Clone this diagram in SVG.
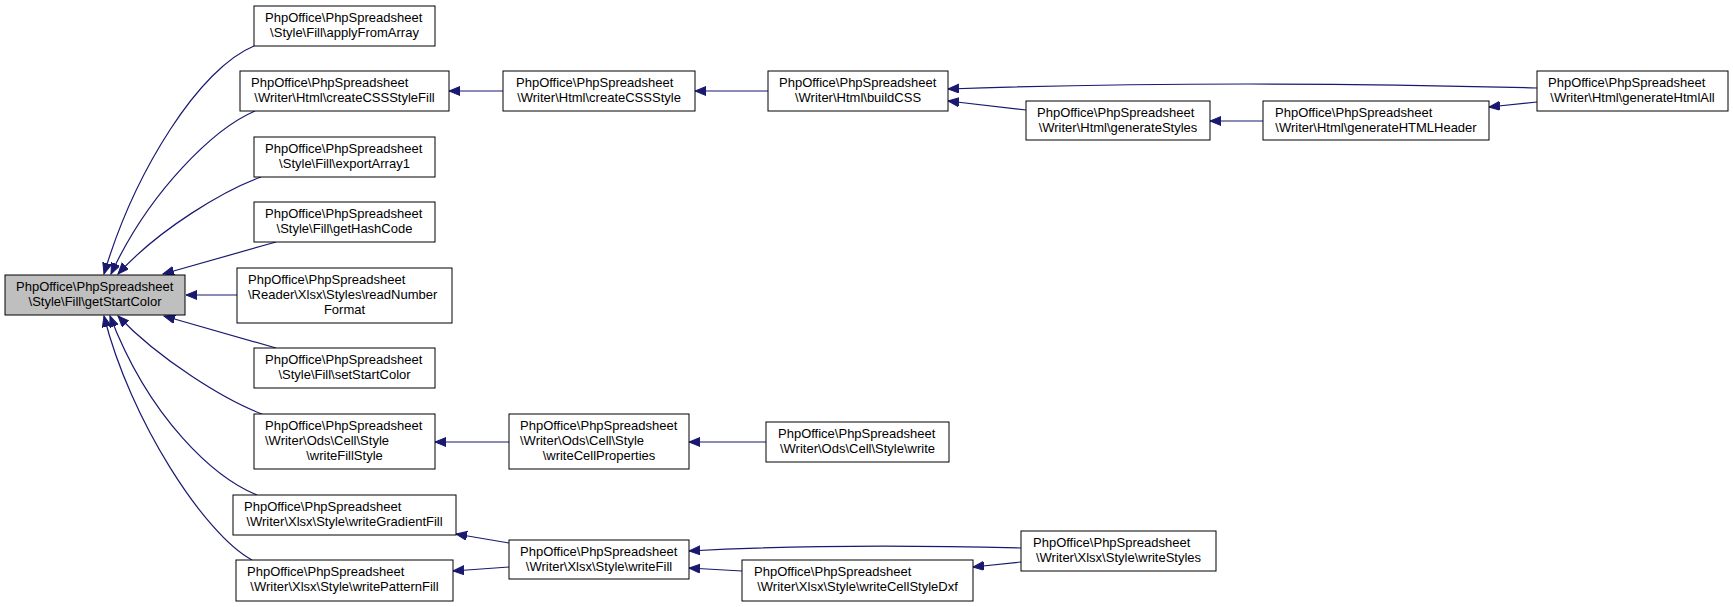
<svg xmlns="http://www.w3.org/2000/svg" width="1733" height="607" viewBox="0 0 1733 607">
<style>
.n rect{fill:#fff;stroke:#000;stroke-width:1}
.n.cur rect{fill:#bfbfbf}
text{font-family:"Liberation Sans",Arial,sans-serif;font-size:13px;fill:#000}
.m{text-anchor:middle}
#edges path{fill:none;stroke:#191970;stroke-width:1.2;marker-end:url(#ah)}
</style>
<defs>
<marker id="ah" markerUnits="userSpaceOnUse" markerWidth="13" markerHeight="11" refX="11" refY="4.5" orient="auto">
<path d="M0,0 L11,4.5 L0,9 z" fill="#191970" stroke="#191970" stroke-width="1"/>
</marker>
</defs>
<rect width="1733" height="607" fill="#fff"/>
<g id="edges">
<path d="M254,46 C200,68 135,170 104,274"/>
<path d="M255,111 C215,128 150,190 111,274"/>
<path d="M261,177 C225,190 160,228 118,274"/>
<path d="M276,242 L163,274"/>
<path d="M237,295 L186,295"/>
<path d="M276,348 L164,316"/>
<path d="M262,414 C225,400 160,360 118,316"/>
<path d="M257,495 C215,478 150,420 110,316"/>
<path d="M252,560 C205,535 130,420 104,316"/>
<path d="M503,91 L449,91"/>
<path d="M768,91 L695,91"/>
<path d="M1537,88 C1350,83 1150,82 948,89"/>
<path d="M1026,110 L948,101"/>
<path d="M1263,121 L1210,121"/>
<path d="M1537,102 L1489,107"/>
<path d="M509,442 L435,442"/>
<path d="M766,442 L689,442"/>
<path d="M509,543 L456,534"/>
<path d="M509,567 L453,571"/>
<path d="M1021,548 C900,545 780,546 689,551"/>
<path d="M1021,562 L973,567"/>
<path d="M742,571 L689,568"/>
</g>
<g id="getStartColor" class="n cur"><rect x="5" y="275" width="180" height="40"/><text x="16" y="291">PhpOffice\PhpSpreadsheet</text><text class="m" x="95" y="306">\Style\Fill\getStartColor</text></g>
<g id="applyFromArray" class="n"><rect x="254" y="6" width="181" height="40"/><text x="265" y="22">PhpOffice\PhpSpreadsheet</text><text class="m" x="344.5" y="37">\Style\Fill\applyFromArray</text></g>
<g id="createCSSStyleFill" class="n"><rect x="240" y="71" width="209" height="40"/><text x="251" y="87">PhpOffice\PhpSpreadsheet</text><text class="m" x="344.5" y="102">\Writer\Html\createCSSStyleFill</text></g>
<g id="exportArray1" class="n"><rect x="254" y="137" width="181" height="40"/><text x="265" y="153">PhpOffice\PhpSpreadsheet</text><text class="m" x="344.5" y="168">\Style\Fill\exportArray1</text></g>
<g id="getHashCode" class="n"><rect x="254" y="202" width="181" height="40"/><text x="265" y="218">PhpOffice\PhpSpreadsheet</text><text class="m" x="344.5" y="233">\Style\Fill\getHashCode</text></g>
<g id="readNumberFormat" class="n"><rect x="237" y="268" width="215" height="55"/><text x="248" y="284">PhpOffice\PhpSpreadsheet</text><text x="248" y="299">\Reader\Xlsx\Styles\readNumber</text><text class="m" x="344.5" y="314">Format</text></g>
<g id="setStartColor" class="n"><rect x="254" y="348" width="181" height="40"/><text x="265" y="364">PhpOffice\PhpSpreadsheet</text><text class="m" x="344.5" y="379">\Style\Fill\setStartColor</text></g>
<g id="writeFillStyle" class="n"><rect x="254" y="414" width="181" height="55"/><text x="265" y="430">PhpOffice\PhpSpreadsheet</text><text x="265" y="445">\Writer\Ods\Cell\Style</text><text class="m" x="344.5" y="460">\writeFillStyle</text></g>
<g id="writeGradientFill" class="n"><rect x="233" y="495" width="223" height="40"/><text x="244" y="511">PhpOffice\PhpSpreadsheet</text><text class="m" x="344.5" y="526">\Writer\Xlsx\Style\writeGradientFill</text></g>
<g id="writePatternFill" class="n"><rect x="236" y="560" width="217" height="41"/><text x="247" y="576">PhpOffice\PhpSpreadsheet</text><text class="m" x="344.5" y="591">\Writer\Xlsx\Style\writePatternFill</text></g>
<g id="createCSSStyle" class="n"><rect x="503" y="71" width="192" height="40"/><text x="516" y="87">PhpOffice\PhpSpreadsheet</text><text class="m" x="599" y="102">\Writer\Html\createCSSStyle</text></g>
<g id="buildCSS" class="n"><rect x="768" y="71" width="180" height="40"/><text x="779" y="87">PhpOffice\PhpSpreadsheet</text><text class="m" x="858" y="102">\Writer\Html\buildCSS</text></g>
<g id="generateStyles" class="n"><rect x="1026" y="101" width="184" height="39"/><text x="1037" y="117">PhpOffice\PhpSpreadsheet</text><text class="m" x="1118" y="132">\Writer\Html\generateStyles</text></g>
<g id="generateHTMLHeader" class="n"><rect x="1263" y="101" width="226" height="39"/><text x="1275" y="117">PhpOffice\PhpSpreadsheet</text><text class="m" x="1376" y="132">\Writer\Html\generateHTMLHeader</text></g>
<g id="generateHtmlAll" class="n"><rect x="1537" y="71" width="191" height="40"/><text x="1548" y="87">PhpOffice\PhpSpreadsheet</text><text class="m" x="1632.5" y="102">\Writer\Html\generateHtmlAll</text></g>
<g id="writeCellProperties" class="n"><rect x="509" y="414" width="180" height="55"/><text x="520" y="430">PhpOffice\PhpSpreadsheet</text><text x="520" y="445">\Writer\Ods\Cell\Style</text><text class="m" x="599" y="460">\writeCellProperties</text></g>
<g id="write" class="n"><rect x="766" y="422" width="183" height="40"/><text x="778" y="438">PhpOffice\PhpSpreadsheet</text><text class="m" x="857.5" y="453">\Writer\Ods\Cell\Style\write</text></g>
<g id="writeFill" class="n"><rect x="509" y="540" width="180" height="39"/><text x="520" y="556">PhpOffice\PhpSpreadsheet</text><text class="m" x="599" y="571">\Writer\Xlsx\Style\writeFill</text></g>
<g id="writeCellStyleDxf" class="n"><rect x="742" y="560" width="231" height="41"/><text x="754" y="576">PhpOffice\PhpSpreadsheet</text><text class="m" x="857.5" y="591">\Writer\Xlsx\Style\writeCellStyleDxf</text></g>
<g id="writeStyles" class="n"><rect x="1021" y="531" width="195" height="40"/><text x="1033" y="547">PhpOffice\PhpSpreadsheet</text><text class="m" x="1118.5" y="562">\Writer\Xlsx\Style\writeStyles</text></g>
</svg>
